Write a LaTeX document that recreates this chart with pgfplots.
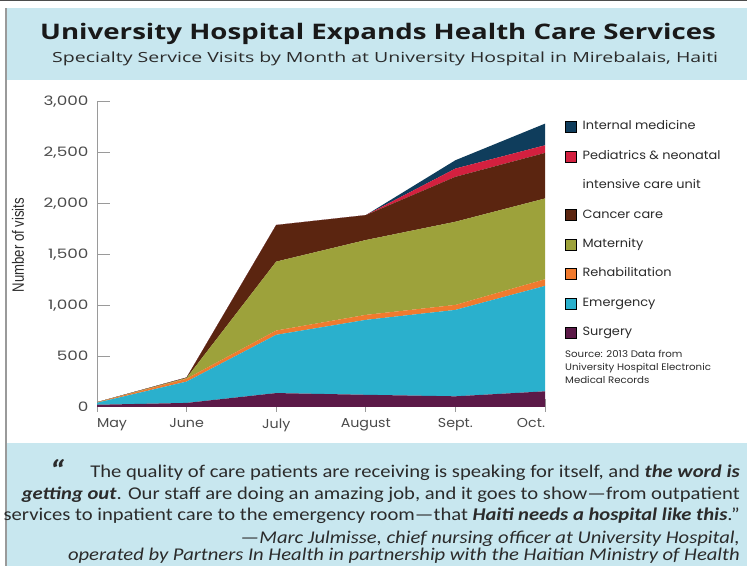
\documentclass[border=0pt]{standalone}
\usepackage{fontspec}
\setmainfont{Open Sans}
\newfontfamily\titlefont[FakeStretch=1.29]{Open Sans}
\newfontfamily\subtitlefont[FakeStretch=1.4]{Open Sans}
\newfontfamily\chartfont[FakeStretch=1.08]{Poppins}
\newfontfamily\xtickfont[FakeStretch=1.1]{Poppins}
\newfontfamily\ytickfont[FakeStretch=1.3]{Poppins}
\newfontfamily\quotefont[FakeStretch=1.15]{Carlito}
\newfontfamily\narrowfont[FakeStretch=0.8]{Liberation Sans}
\usepackage{pgfplots}
\usepackage{pgfplotstable}
\pgfplotsset{compat=1.18}

\definecolor{bannerblue}{HTML}{C8E7EF}
\definecolor{surgery}{HTML}{5C1A48}
\definecolor{emergency}{HTML}{2AB0CD}
\definecolor{rehab}{HTML}{F07A2E}
\definecolor{maternity}{HTML}{9DA23B}
\definecolor{cancer}{HTML}{5B2510}
\definecolor{pediatrics}{HTML}{D3203F}
\definecolor{internal}{HTML}{0F3D5C}
\definecolor{txt}{HTML}{2B2B2B}
\definecolor{axisgray}{HTML}{9A9A9A}

% visits per month (0 = May ... 5 = Oct.)
\pgfplotstableread{
x surgery emergency rehab maternity cancer pediatrics internal
0 22  20   3  2   0   0  0
1 40  210  28 7   5   0  0
2 137 573  42 678 360 0  0
3 120 737  49 736 245 0  0
4 105 850  49 818 442 81 82
5 154 1037 65 795 448 75 213
}\visits

\begin{document}
\begin{tikzpicture}
\path[use as bounding box] (0,0) rectangle (747bp,566bp);
\begin{scope}[x=1bp,y=1bp, every node/.append style={inner sep=0pt}]
  \fill[white] (0,0) rectangle (747,566);
  \fill[bannerblue] (6,486) rectangle (747,558);
  \fill[bannerblue] (6,0) rectangle (747,123);
  \draw[axisgray, line width=1.2bp] (6,0) -- (6,558);
  \draw[black!70, line width=1.2bp] (0,565.4) -- (747,565.4);
  \node[anchor=base west, font=\titlefont\bfseries\fontsize{21.5}{26}\selectfont, text=black!90]
    at (40,526) {University Hospital Expands Health Care Services};
  \node[anchor=base west, font=\subtitlefont\fontsize{14}{17}\selectfont, text=txt]
    at (52,503) {Specialty Service Visits by Month at University Hospital in Mirebalais, Haiti};
  \node[rotate=90, font=\narrowfont\fontsize{16.5}{18}\selectfont, text=txt]
    at (18,321) {Number of visits};
  \node[anchor=north west, align=left, font=\chartfont\fontsize{9.5}{13}\selectfont, text=txt]
    at (565,216) {Source: 2013 Data from\\University Hospital Electronic\\Medical Records};
  % quote
  \node[anchor=base, font=\quotefont\bfseries\itshape\fontsize{30}{30}\selectfont, text=txt]
    at (57,85) {“};
  \begin{scope}[every node/.style={anchor=base east, text=txt, inner sep=0pt,
      font=\quotefont\fontsize{18}{21}\selectfont}]
    \node at (740,88.5) {The quality of care patients are receiving is speaking for itself, and \textbf{\textit{the word is}}};
    \node at (740,66.5) {\textbf{\textit{getting out}}. Our staff are doing an amazing job, and it goes to show—from outpatient};
    \node at (740,45.5) {services to inpatient care to the emergency room—that \textbf{\textit{Haiti needs a hospital like this}}.”};
    \node at (740,23) {\itshape —Marc Julmisse, chief nursing officer at University Hospital,};
    \node at (740,5.5) {\itshape operated by Partners In Health in partnership with the Haitian Ministry of Health};
  \end{scope}
\end{scope}

\begin{axis}[
  at={(97bp,159bp)}, anchor=south west,
  scale only axis, width=448bp, height=305bp,
  xmin=0, xmax=5, ymin=0, ymax=3000,
  stack plots=y,
  axis x line=bottom, axis y line=left,
  axis line style={-, draw=axisgray, line width=1bp},
  xtick={0,...,5},
  xticklabels={\rlap{May},June,July,August,Sept.,\llap{Oct.}},
  ytick={0,500,...,3000},
  tick align=inside, major tick length=13bp,
  tick style={draw=axisgray, line width=1bp},
  x tick style={yshift=-5bp},
  /pgf/number format/assume math mode=true,
  /pgf/number format/1000 sep={,},
  xticklabel style={font=\xtickfont\fontsize{13}{16}\selectfont, text=txt!85, yshift=-8bp},
  yticklabel style={font=\ytickfont\fontsize{13}{16}\selectfont, text=txt!85, xshift=-5bp},
  legend image code/.code={\fill[#1] (0bp,-5.5bp) rectangle (11bp,5.5bp);},
  legend style={draw=none, fill=none, at={(1.038,0.944)}, anchor=north west,
    font=\chartfont\fontsize{12}{13}\selectfont, text=txt,
    nodes={inner sep=0pt, text height=8.5bp, text depth=2.5bp},
    row sep=18bp, column sep=6bp, legend cell align=left},
]
\addplot[fill=surgery, draw=none, forget plot] table[x=x, y=surgery]{\visits} \closedcycle;
\addplot[fill=emergency, draw=none, forget plot] table[x=x, y=emergency]{\visits} \closedcycle;
\addplot[fill=rehab, draw=none, forget plot] table[x=x, y=rehab]{\visits} \closedcycle;
\addplot[fill=maternity, draw=none, forget plot] table[x=x, y=maternity]{\visits} \closedcycle;
\addplot[fill=cancer, draw=none, forget plot] table[x=x, y=cancer]{\visits} \closedcycle;
\addplot[fill=pediatrics, draw=none, forget plot] table[x=x, y=pediatrics]{\visits} \closedcycle;
\addplot[fill=internal, draw=none, forget plot] table[x=x, y=internal]{\visits} \closedcycle;

\addlegendimage{fill=internal}\addlegendentry{Internal medicine}
\addlegendimage{fill=pediatrics}\addlegendentry{Pediatrics \& neonatal}
\addlegendimage{fill=white, draw=white}\addlegendentry{intensive care unit}
\addlegendimage{fill=cancer}\addlegendentry{Cancer care}
\addlegendimage{fill=maternity}\addlegendentry{Maternity}
\addlegendimage{fill=rehab}\addlegendentry{Rehabilitation}
\addlegendimage{fill=emergency}\addlegendentry{Emergency}
\addlegendimage{fill=surgery}\addlegendentry{Surgery}
\end{axis}
\end{tikzpicture}
\end{document}
